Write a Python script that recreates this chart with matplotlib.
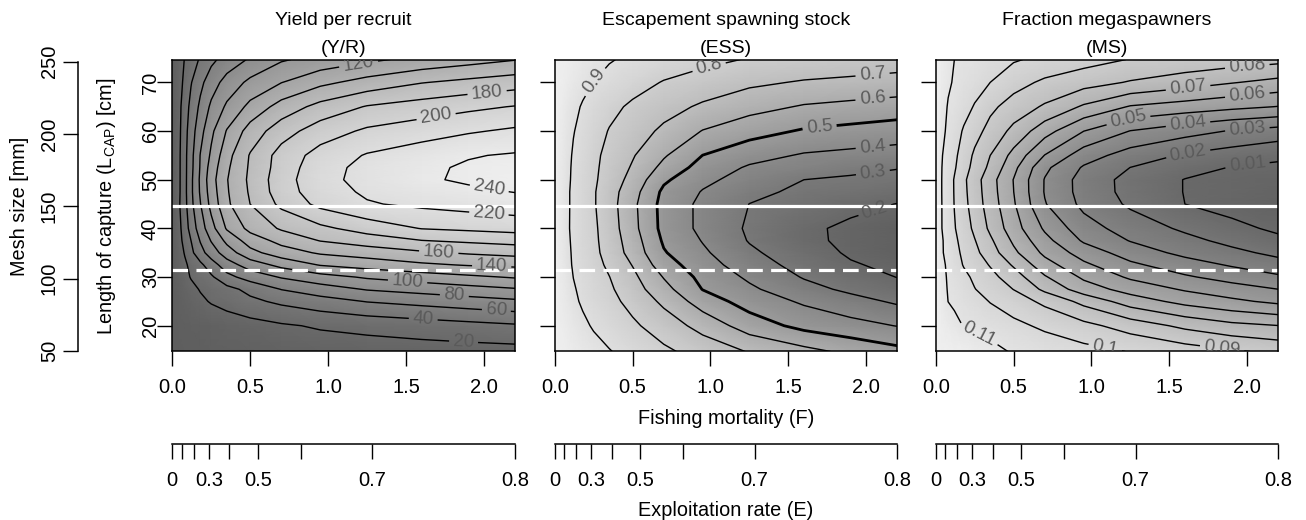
import numpy as np
import matplotlib
matplotlib.use('Agg')
import matplotlib.pyplot as plt
from matplotlib.colors import LinearSegmentedColormap

plt.rcParams['font.family'] = ['Liberation Sans', 'DejaVu Sans']
plt.rcParams['mathtext.fontset'] = 'custom'
plt.rcParams['mathtext.rm'] = 'Liberation Sans'
plt.rcParams['mathtext.it'] = 'Liberation Sans:italic'

# grid of values (rows = length of capture, cols = F)
F_grid = [0, 0.04, 0.08, 0.12, 0.18, 0.25, 0.35, 0.5, 0.7, 0.95, 1.25, 1.6, 1.9, 2.2]
L_grid = [14.7, 20, 25, 27.5, 30, 32.5, 35, 37.5, 40, 45, 47.5, 50, 52.5, 55, 60, 65, 70, 74.7]

yield_per_recruit = [
    [0, 0.5, 1.0, 1.6, 2.3, 3.1, 4.2, 5.6, 7.2, 8.6, 9.9, 11.1, 12.1, 13],
    [0, 1.0, 2.1, 3.1, 4.7, 6.4, 8.9, 12.6, 17.6, 22.2, 25.8, 30.1, 33.7, 37.4],
    [0, 3.6, 7.2, 10.8, 16.3, 21.6, 27.3, 35.7, 43.9, 51.9, 60.8, 66.4, 71.3, 76.2],
    [0, 4.9, 9.9, 14.8, 21.3, 26.7, 34, 45.5, 60.6, 70.9, 81.4, 87.5, 92.8, 98.2],
    [0, 7.2, 14.5, 21.2, 28.5, 37, 54, 68.4, 81.6, 92.3, 102.5, 109.8, 116, 121.8],
    [0, 8.6, 16.7, 24.8, 35.5, 50.8, 70.7, 89.5, 105.7, 121.2, 128.3, 136.6, 141.4, 144],
    [0, 10.5, 21.4, 35.1, 52.8, 69.8, 90, 113.7, 130.7, 142.5, 149.2, 156.9, 162.2, 166.4],
    [0, 12.7, 26.1, 40, 61.4, 81.3, 105, 129.3, 146.3, 160.8, 169.5, 179.6, 183.6, 187.3],
    [0, 13.6, 29.9, 47.6, 70.1, 92.4, 122.2, 145.9, 162.4, 175.4, 188.6, 200.7, 203.8, 206.9],
    [0, 16.5, 33.6, 54.6, 79.3, 106.3, 136.4, 160.1, 184.7, 205.4, 218.3, 224, 227.8, 231.6],
    [0, 15.3, 34.3, 55.8, 82.5, 109.6, 138, 162.5, 190.5, 210.8, 223, 229.9, 235.8, 240.5],
    [0, 15.2, 34.2, 55.5, 83.5, 112, 139, 164, 191.5, 213.5, 226.5, 237, 243, 248],
    [0, 15.1, 34.3, 54.1, 81.7, 108.6, 136.6, 162.8, 189, 212.1, 225.9, 236.1, 242.5, 247],
    [0, 15, 34.3, 53.4, 80.8, 103.4, 133.1, 161.6, 188, 207.6, 221.6, 230.7, 238.6, 242],
    [0, 14, 33, 50.3, 73, 95.7, 121.3, 148.6, 171.1, 190.2, 203.3, 211.1, 217.8, 223.3],
    [0, 13.6, 29.9, 45.6, 64.1, 83.8, 103.3, 125.5, 148, 166.5, 181.4, 189, 195.4, 201],
    [0, 11.9, 24.5, 38.8, 55, 70.5, 87.7, 104.7, 119.5, 135, 147.4, 159.1, 165.1, 170.7],
    [0, 10.5, 20.9, 29.7, 42.5, 55.4, 67.8, 82.4, 97.8, 106.8, 116.1, 125.2, 132.1, 139],
]

escapement = [
    [1, 0.989, 0.978, 0.967, 0.951, 0.932, 0.905, 0.868, 0.819, 0.761, 0.694, 0.631, 0.577, 0.53],
    [1, 0.982, 0.964, 0.945, 0.918, 0.891, 0.862, 0.817, 0.752, 0.666, 0.551, 0.471, 0.433, 0.397],
    [1, 0.972, 0.945, 0.917, 0.888, 0.864, 0.829, 0.77, 0.68, 0.552, 0.458, 0.386, 0.336, 0.285],
    [1, 0.969, 0.938, 0.908, 0.88, 0.853, 0.815, 0.745, 0.634, 0.497, 0.417, 0.334, 0.279, 0.237],
    [1, 0.966, 0.931, 0.899, 0.874, 0.844, 0.802, 0.724, 0.595, 0.471, 0.384, 0.293, 0.243, 0.198],
    [1, 0.961, 0.921, 0.892, 0.865, 0.832, 0.783, 0.696, 0.546, 0.442, 0.348, 0.263, 0.208, 0.18],
    [1, 0.959, 0.918, 0.889, 0.858, 0.823, 0.766, 0.662, 0.508, 0.416, 0.318, 0.24, 0.189, 0.16],
    [1, 0.957, 0.914, 0.886, 0.855, 0.819, 0.759, 0.648, 0.487, 0.395, 0.294, 0.22, 0.182, 0.157],
    [1, 0.955, 0.91, 0.884, 0.853, 0.817, 0.752, 0.631, 0.47, 0.377, 0.286, 0.218, 0.182, 0.155],
    [1, 0.956, 0.912, 0.883, 0.849, 0.809, 0.742, 0.624, 0.466, 0.378, 0.299, 0.259, 0.224, 0.198],
    [1, 0.956, 0.912, 0.883, 0.849, 0.809, 0.744, 0.639, 0.479, 0.394, 0.323, 0.281, 0.258, 0.235],
    [1, 0.958, 0.916, 0.886, 0.853, 0.815, 0.757, 0.667, 0.517, 0.423, 0.36, 0.3, 0.285, 0.27],
    [1, 0.959, 0.918, 0.888, 0.856, 0.818, 0.766, 0.69, 0.572, 0.46, 0.388, 0.356, 0.327, 0.305],
    [1, 0.961, 0.923, 0.891, 0.859, 0.821, 0.774, 0.708, 0.611, 0.499, 0.436, 0.39, 0.374, 0.358],
    [1, 0.968, 0.936, 0.904, 0.874, 0.841, 0.795, 0.747, 0.681, 0.596, 0.538, 0.49, 0.471, 0.452],
    [1, 0.974, 0.949, 0.923, 0.891, 0.865, 0.827, 0.783, 0.737, 0.685, 0.635, 0.591, 0.573, 0.555],
    [1, 0.984, 0.968, 0.951, 0.927, 0.899, 0.875, 0.839, 0.794, 0.76, 0.719, 0.691, 0.679, 0.666],
    [1, 0.989, 0.979, 0.968, 0.952, 0.933, 0.906, 0.884, 0.858, 0.825, 0.794, 0.776, 0.76, 0.745],
]

megaspawners = [
    [0.12, 0.1195, 0.119, 0.1185, 0.1178, 0.116, 0.1135, 0.1089, 0.1064, 0.1033, 0.0996, 0.0952, 0.0914, 0.0878],
    [0.12, 0.1175, 0.115, 0.1126, 0.1096, 0.108, 0.1058, 0.1025, 0.0981, 0.0929, 0.0856, 0.0777, 0.0727, 0.0702],
    [0.12, 0.1149, 0.1099, 0.1084, 0.1061, 0.1034, 0.0996, 0.0948, 0.0878, 0.0771, 0.0652, 0.0569, 0.0521, 0.0478],
    [0.12, 0.1139, 0.1092, 0.1071, 0.104, 0.1003, 0.0961, 0.0898, 0.0778, 0.0649, 0.0561, 0.0489, 0.0442, 0.04],
    [0.12, 0.1132, 0.1087, 0.1061, 0.1023, 0.0983, 0.0931, 0.0848, 0.071, 0.0583, 0.0485, 0.0413, 0.0363, 0.0316],
    [0.12, 0.1127, 0.1078, 0.1043, 0.0994, 0.0953, 0.0893, 0.0788, 0.0641, 0.052, 0.0419, 0.0346, 0.029, 0.024],
    [0.12, 0.1109, 0.1069, 0.1031, 0.0979, 0.0926, 0.0847, 0.0722, 0.0578, 0.0456, 0.0355, 0.0273, 0.0226, 0.0175],
    [0.12, 0.1109, 0.1062, 0.102, 0.0965, 0.0905, 0.0817, 0.0683, 0.0531, 0.0387, 0.0295, 0.0229, 0.0172, 0.0118],
    [0.12, 0.11, 0.1053, 0.1007, 0.0948, 0.088, 0.0781, 0.0644, 0.0486, 0.0342, 0.0256, 0.0183, 0.0122, 0.0085],
    [0.12, 0.1099, 0.1049, 0.0997, 0.0929, 0.0854, 0.0753, 0.0611, 0.0406, 0.0275, 0.0184, 0.01, 0.007, 0.004],
    [0.12, 0.1097, 0.1046, 0.0995, 0.0923, 0.0848, 0.0745, 0.0601, 0.0394, 0.0263, 0.0169, 0.0097, 0.0073, 0.005],
    [0.12, 0.1097, 0.1045, 0.0994, 0.0919, 0.0843, 0.074, 0.0597, 0.0395, 0.0261, 0.0168, 0.0097, 0.0078, 0.006],
    [0.12, 0.11, 0.1055, 0.1011, 0.0941, 0.0868, 0.0778, 0.0627, 0.0421, 0.0289, 0.0199, 0.0134, 0.0096, 0.0085],
    [0.12, 0.1104, 0.1063, 0.1021, 0.0956, 0.0883, 0.08, 0.0668, 0.0497, 0.0347, 0.0255, 0.0188, 0.0152, 0.0116],
    [0.12, 0.1127, 0.1077, 0.1042, 0.099, 0.0936, 0.0867, 0.0773, 0.064, 0.0501, 0.0397, 0.0339, 0.0293, 0.0261],
    [0.12, 0.1139, 0.1092, 0.1069, 0.1035, 0.0993, 0.0922, 0.0858, 0.0787, 0.0686, 0.0592, 0.0556, 0.0525, 0.0497],
    [0.12, 0.1157, 0.1114, 0.109, 0.1067, 0.1039, 0.1, 0.0937, 0.0882, 0.084, 0.0792, 0.0746, 0.0706, 0.067],
    [0.12, 0.1166, 0.1133, 0.11, 0.1086, 0.1069, 0.1045, 0.101, 0.0976, 0.0938, 0.0896, 0.0872, 0.0851, 0.083],
]

yr_levels = [20, 40, 60, 80, 100, 120, 140, 160, 180, 200, 220, 240]
ess_levels = [0.2, 0.3, 0.4, 0.5, 0.6, 0.7, 0.8, 0.9]
ms_levels = [0.01, 0.02, 0.03, 0.04, 0.05, 0.06, 0.07, 0.08, 0.09, 0.1, 0.11]

titles = [("Yield per recruit", "(Y/R)"),
          ("Escapement spawning stock", "(ESS)"),
          ("Fraction megaspawners", "(MS)")]

L_maturity = 44.7   # solid white line
L_dashed = 31.5     # dashed white line
M = 0.55            # natural mortality, E = F / (F + M)
mesh_to_L = 0.297   # length of capture per mm of mesh

F_ticks = [0, 0.5, 1.0, 1.5, 2.0]
L_ticks = [20, 30, 40, 50, 60, 70]
E_ticks = [0, 0.1, 0.2, 0.3, 0.4, 0.5, 0.6, 0.7, 0.8]
E_labels = ['0', '', '', '0.3', '', '0.5', '', '0.7', '0.8']
mesh_ticks = [50, 100, 150, 200, 250]

# label spots (F, L) copied from where the labels sit in the figure
label_spots = [
    [(1.20, 73.0), (2.02, 68.2), (1.69, 63.7), (2.03, 47.3), (2.03, 42.0), (1.71, 34.9),
     (2.05, 31.9), (1.51, 28.9), (1.81, 26.0), (2.08, 22.9), (1.61, 20.9), (1.87, 16.8)],
    [(0.25, 70.3), (0.99, 73.3), (2.04, 71.8), (2.04, 66.7), (1.70, 60.9), (2.04, 57.2),
     (2.04, 52.1), (2.04, 45.2)],
    [(2.00, 73.3), (1.62, 68.9), (2.00, 67.5), (1.24, 62.0), (1.62, 61.3), (2.00, 60.7),
     (1.62, 55.5), (2.00, 53.5), (0.28, 18.5), (1.09, 15.7), (1.84, 15.7)],
]

W, H = 1306, 520
fig = plt.figure(figsize=(W / 100, H / 100), dpi=100)
cmap = LinearSegmentedColormap.from_list('grey', ['#5e5e5e', '#f0f0f0'])

panels = [(yield_per_recruit, yr_levels, (0, 250)),
          (escapement, ess_levels, (0.14, 1.0)),
          (megaspawners, ms_levels, (0.0, 0.12))]
lefts = [172.3, 554.7, 935.7]
pw, ptop, pbot = 342.7, 60.0, 351.3
TICK_FS = 14.5
LAB_FS = 14.3

FF, LL = np.meshgrid(F_grid, L_grid)

def f_to_e(f):
    f = np.asarray(f, dtype=float)
    return f / (f + M)

def e_to_f(e):
    e = np.clip(np.asarray(e, dtype=float), None, 0.99)
    return M * e / (1 - e)

for i, (Z, levels, (vmin, vmax)) in enumerate(panels):
    Z = np.array(Z)
    ax = fig.add_axes([lefts[i] / W, 1 - pbot / H, pw / W, (pbot - ptop) / H])
    ax.pcolormesh(FF, LL, Z, shading='gouraud', cmap=cmap, vmin=vmin, vmax=vmax)
    lws = [2.0 if (i == 1 and abs(lv - 0.5) < 1e-9) else 1.0 for lv in levels]
    cs = ax.contour(FF, LL, Z, levels=levels, colors='black', linewidths=lws)
    ax.clabel(cs, levels, inline=True, inline_spacing=4, fmt=lambda v: f'{v:g}',
              fontsize=13.5, colors='#5a5a5a', manual=label_spots[i])
    ax.axhline(L_maturity, color='white', lw=2.3)
    ax.axhline(L_dashed, color='white', lw=2.3, dashes=(4.9, 2.6))
    ax.set_xlim(0, 2.2)
    ax.set_ylim(14.75, 74.6)
    ax.set_xticks(F_ticks)
    ax.set_xticklabels([f'{v:.1f}' for v in F_ticks])
    ax.set_yticks(L_ticks)
    for sp in ax.spines.values():
        sp.set_linewidth(1.1)
    ax.tick_params(direction='out', length=11, width=1.0, labelsize=TICK_FS, pad=8.5)
    if i == 0:
        ax.set_yticklabels([str(v) for v in L_ticks])
        plt.setp(ax.get_yticklabels(), rotation=90, va='center')
        ax.tick_params(axis='y', pad=-2)
    else:
        ax.set_yticklabels([])

    # exploitation rate axis below
    sec = ax.secondary_xaxis(-(444 - pbot) / (pbot - ptop), functions=(f_to_e, e_to_f))
    sec.set_xticks(E_ticks)
    sec.set_xticklabels(E_labels)
    sec.tick_params(direction='out', length=11, width=1.0, labelsize=TICK_FS, pad=8.5)
    sec.spines['bottom'].set_linewidth(1.1)

    cx = (lefts[i] + pw / 2) / W
    fig.text(cx, 1 - 20.5 / H, titles[i][0], ha='center', va='center', fontsize=14)
    fig.text(cx, 1 - 48.2 / H, titles[i][1], ha='center', va='center', fontsize=14)

    if i == 0:
        mesh = ax.secondary_yaxis(-(lefts[0] - 78.3) / pw,
                                  functions=(lambda l: np.asarray(l) / mesh_to_L,
                                             lambda m: np.asarray(m) * mesh_to_L))
        mesh.set_yticks(mesh_ticks)
        mesh.set_yticklabels([str(v) for v in mesh_ticks])
        plt.setp(mesh.get_yticklabels(), rotation=90, va='center')
        mesh.tick_params(direction='out', length=11, width=1.0, labelsize=TICK_FS, pad=3)
        mesh.spines['left'].set_linewidth(1.1)
        mesh.spines['left'].set_bounds(50, 250)

fig.text(107 / W, 1 - 206 / H, r'Length of capture (L$_{\mathrm{CAP}}$) [cm]',
         rotation=90, ha='center', va='center', fontsize=LAB_FS)
fig.text(20 / W, 1 - 206 / H, 'Mesh size [mm]', rotation=90, ha='center', va='center', fontsize=LAB_FS)
fig.text((lefts[1] + pw / 2) / W, 1 - 418.5 / H, 'Fishing mortality (F)', ha='center', va='center',
         fontsize=LAB_FS)
fig.text((lefts[1] + pw / 2) / W, 1 - 510.5 / H, 'Exploitation rate (E)', ha='center', va='center',
         fontsize=LAB_FS)

fig.savefig('out.png', dpi=100)
